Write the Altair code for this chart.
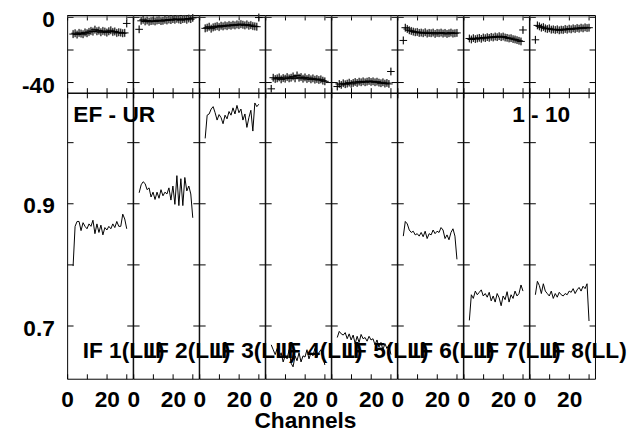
import altair as alt
import pandas as pd

# ---------------- data ----------------
channels = list(range(3, 31))
if_labels = ["IF 1(LL)", "IF 2(LL)", "IF 3(LL)", "IF 4(LL)",
             "IF 5(LL)", "IF 6(LL)", "IF 7(LL)", "IF 8(LL)"]

amp1 = [0.797, 0.862, 0.870, 0.870, 0.855, 0.868, 0.862, 0.858, 0.866, 0.862, 0.872, 0.850, 0.866, 0.852,
        0.864, 0.848, 0.860, 0.856, 0.862, 0.858, 0.866, 0.860, 0.870, 0.862, 0.862, 0.882, 0.874, 0.858]
amp2 = [0.917, 0.930, 0.935, 0.932, 0.922, 0.925, 0.910, 0.918, 0.906, 0.918, 0.908, 0.922, 0.912, 0.918,
        0.915, 0.925, 0.905, 0.928, 0.898, 0.945, 0.896, 0.940, 0.896, 0.942, 0.920, 0.928, 0.915, 0.876]
amp3 = [1.006, 1.044, 1.046, 1.054, 1.058, 1.048, 1.036, 1.045, 1.040, 1.030, 1.044, 1.038, 1.050, 1.044,
        1.056, 1.046, 1.060, 1.048, 1.054, 1.036, 1.046, 1.024, 1.040, 1.052, 1.018, 1.064, 1.058, 1.062]
amp4 = [0.668, 0.660, 0.652, 0.662, 0.648, 0.655, 0.640, 0.650, 0.645, 0.660, 0.638, 0.632, 0.650, 0.642,
        0.655, 0.640, 0.650, 0.648, 0.660, 0.645, 0.655, 0.650, 0.662, 0.648, 0.655, 0.660, 0.650, 0.635]
amp5 = [0.680, 0.690, 0.686, 0.684, 0.688, 0.678, 0.686, 0.676, 0.684, 0.670, 0.682, 0.672, 0.685, 0.678,
        0.680, 0.674, 0.682, 0.676, 0.678, 0.668, 0.676, 0.664, 0.672, 0.660, 0.670, 0.662, 0.668, 0.652]
amp6 = [0.846, 0.870, 0.866, 0.856, 0.852, 0.854, 0.848, 0.850, 0.846, 0.852, 0.845, 0.854, 0.842, 0.850,
        0.848, 0.856, 0.850, 0.854, 0.852, 0.860, 0.856, 0.842, 0.848, 0.840, 0.852, 0.858, 0.846, 0.808]
amp7 = [0.708, 0.750, 0.744, 0.756, 0.750, 0.754, 0.758, 0.748, 0.752, 0.746, 0.754, 0.740, 0.748, 0.738,
        0.752, 0.745, 0.732, 0.748, 0.742, 0.755, 0.738, 0.750, 0.744, 0.756, 0.748, 0.752, 0.766, 0.756]
amp8 = [0.750, 0.772, 0.765, 0.752, 0.768, 0.756, 0.752, 0.748, 0.756, 0.744, 0.752, 0.746, 0.754, 0.750,
        0.748, 0.752, 0.750, 0.756, 0.754, 0.760, 0.752, 0.758, 0.762, 0.756, 0.764, 0.760, 0.768, 0.707]

ph1 = [-10.5, -10, -10.8, -9.8, -10.2, -10.6, -9.5, -10, -9.2, -8.6, -9, -7.8, -8.8, -8.4,
       -9.4, -8.6, -9, -9.6, -8.8, -8.2, -9.2, -8.9, -9.8, -9.4, -9.6, -10, -9.8, -4]
ph2 = [-7.6, -2.4, -1.8, -2.8, -2.2, -3, -2.6, -2.4, -2.8, -2.2, -2, -2.6, -2.4, -1.8,
       -2.2, -1.6, -2, -1.4, -1.8, -1.2, -1.6, -2, -1.4, -1.2, -1.8, -1, -1.4, -0.6]
ph3 = [-7, -6.6, -6, -7.2, -6.4, -6, -5.6, -6.2, -5.4, -5.8, -5.2, -5.6, -5, -5.4,
       -4.8, -5.2, -4.6, -5, -4.4, -4.8, -5.2, -4.6, -5.4, -5, -5.6, -5.8, -6, -0.4]
ph4 = [-44, -37.2, -38, -37.6, -37, -38.2, -37.4, -37.8, -36.8, -37.6, -37.2, -36.4, -37.6, -35.8,
       -37.2, -36.8, -37.8, -37, -38, -37.4, -38.2, -37.6, -38.4, -38, -38.6, -38.2, -39, -39.4]
ph5 = [-42.6, -41, -41.6, -40.6, -41.2, -40.8, -40.2, -41, -40.4, -39.8, -40.4, -39.6, -40, -39.4,
       -40, -39.6, -39.2, -39.8, -39.4, -40, -39.6, -40.2, -40.6, -40, -40.8, -40.4, -41, -33.4]
ph6 = [-14.4, -6.6, -7.4, -8.2, -8.6, -9, -9.4, -9.2, -9.8, -9.6, -10, -9.4, -10.2, -9.8,
       -10, -9.6, -10.4, -9.8, -10, -9.6, -10.2, -9.8, -10.4, -10, -9.6, -10.2, -10, -9.8]
ph7 = [-13.2, -13.8, -13, -13.6, -13.2, -12.8, -13.4, -12.6, -13, -12.4, -12.8, -12.2, -12.6, -12,
       -12.4, -11.8, -12.4, -12, -12.6, -12.8, -13.2, -13, -13.6, -13.8, -14.2, -14.6, -15, -8]
ph8 = [-14, -5.2, -5.8, -6.6, -6.2, -7, -7.4, -7, -7.8, -7.6, -8, -7.6, -8.2, -7.8,
       -8, -7.4, -7.8, -7.2, -7.6, -7, -7.4, -6.8, -7.2, -6.6, -7, -6.4, -6.8, -6.6]
ph_err = [2.6, 2.4, 2.6, 2.5, 2.4, 2.5, 2.4, 2.5]

amps = [amp1, amp2, amp3, amp4, amp5, amp6, amp7, amp8]
phases = [ph1, ph2, ph3, ph4, ph5, ph6, ph7, ph8]

# ---------------- layout / style ----------------
FONT = "Liberation Sans"
FS = 23
W = 66.5
H_TOP = 78.7
H_BOT = 290
X_DOM = [0, 33]
PH_DOM = [-46.3, 1.15]
AMP_DOM = [0.6125, 1.0805]
X_TICKS = [0, 10, 20, 30]
PH_TICKS = [-40, -20, 0]
AMP_TICKS = [0.7, 0.8, 0.9, 1.0]
PLUS = "M-1,0L1,0M0,-1L0,1"

xs = alt.Scale(domain=X_DOM, nice=False, zero=False)
ys_top = alt.Scale(domain=PH_DOM, nice=False, zero=False)
ys_bot = alt.Scale(domain=AMP_DOM, nice=False, zero=False)


def tick_axis(orient, offset, values, size):
    return alt.Axis(orient=orient, offset=offset, values=values, ticks=True, tickSize=size,
                    tickColor="black", tickWidth=1, labels=False, domain=False, grid=False, title=None)


def axis_layers(df, yfield, ys, h, yticks, x_lab=None, y_lab=None):
    base = alt.Chart(df).mark_point(opacity=0)
    layers = [
        base.encode(x=alt.X("ch:Q", scale=xs, axis=tick_axis("top", -h, X_TICKS, 5)),
                    y=alt.Y(yfield, scale=ys, axis=tick_axis("right", -W, yticks, 6))),
        base.encode(x=alt.X("ch:Q", scale=xs, axis=tick_axis("bottom", -h, X_TICKS, 5)),
                    y=alt.Y(yfield, scale=ys, axis=tick_axis("left", -W, yticks, 6))),
    ]
    if x_lab is not None or y_lab is not None:
        layers.append(base.encode(x=alt.X("ch:Q", scale=xs, axis=x_lab),
                                  y=alt.Y(yfield, scale=ys, axis=y_lab)))
    return layers


lab_common = dict(ticks=False, domain=False, grid=False, labelFont=FONT, labelFontSize=FS,
                  labelFontWeight="bold", labelColor="black", labelFlush=False, labelOverlap=False)

top_cells = []
bot_cells = []
for i in range(8):
    err = ph_err[i]
    df_top = pd.DataFrame({"ch": channels, "ph": phases[i],
                           "lo": [v - err for v in phases[i]],
                           "hi": [v + err for v in phases[i]]})
    df_bot = pd.DataFrame({"ch": channels, "amp": amps[i]})

    # ---- top (phase) panel ----
    y_lab_top = None
    if i == 0:
        y_lab_top = alt.Axis(orient="left", values=[-40, 0], labelExpr="toString(datum.value)",
                             labelPadding=13, labelOffset=3, title=None, **lab_common)
    bars = alt.Chart(df_top).mark_rule(color="#a6a6a6", strokeWidth=1).encode(
        x=alt.X("ch:Q", scale=xs, axis=None),
        y=alt.Y("lo:Q", scale=ys_top, axis=None), y2="hi:Q")
    pts = alt.Chart(df_top).mark_point(shape=PLUS, size=60, filled=False, color="black",
                                       strokeWidth=1, opacity=1).encode(
        x=alt.X("ch:Q", scale=xs, axis=None),
        y=alt.Y("ph:Q", scale=ys_top, axis=None))
    zero = alt.Chart(pd.DataFrame({"k": [0]})).mark_rule(color="#7a7a7a", strokeWidth=1).encode(
        y=alt.YDatum(0, scale=ys_top, axis=None))
    top = alt.layer(zero, bars, pts,
                    *axis_layers(df_top, "ph:Q", ys_top, H_TOP, PH_TICKS, None, y_lab_top)
                    ).resolve_axis(x="independent", y="independent").properties(width=W, height=H_TOP)
    top_cells.append(top)

    # ---- bottom (amplitude) panel ----
    x_kw = dict(lab_common)
    if i == 3:
        x_lab = alt.Axis(orient="bottom", values=[0, 20], labelPadding=10, title="Channels",
                         titleFont=FONT, titleFontSize=FS, titleFontWeight="bold", titleColor="black",
                         titleX=40.3, titleY=49, titleAlign="center", titleBaseline="alphabetic", **x_kw)
    else:
        x_lab = alt.Axis(orient="bottom", values=[0, 20], labelPadding=10, title=None, **x_kw)
    y_lab_bot = None
    if i == 0:
        y_lab_bot = alt.Axis(orient="left", values=[0.7, 0.9], format=".1f",
                             labelPadding=13, labelOffset=3, title=None, **lab_common)
    line = alt.Chart(df_bot).mark_line(color="black", strokeWidth=1).encode(
        x=alt.X("ch:Q", scale=xs, axis=None),
        y=alt.Y("amp:Q", scale=ys_bot, axis=None))
    lbl = alt.Chart(pd.DataFrame({"k": [0]})).mark_text(
        text=if_labels[i], align="left", baseline="middle", font=FONT, fontSize=FS,
        fontWeight="bold", color="black").encode(
        x=alt.XDatum(7.8, scale=xs, axis=None), y=alt.YDatum(0.6575, scale=ys_bot, axis=None))
    layers = [line, lbl]
    if i == 0:
        layers.append(alt.Chart(pd.DataFrame({"k": [0]})).mark_text(
            text="EF - UR", align="left", baseline="middle", font=FONT, fontSize=FS,
            fontWeight="bold", color="black").encode(
            x=alt.XDatum(3.1, scale=xs, axis=None), y=alt.YDatum(1.0446, scale=ys_bot, axis=None)))
    if i == 7:
        layers.append(alt.Chart(pd.DataFrame({"k": [0]})).mark_text(
            text="1 - 10", align="right", baseline="middle", font=FONT, fontSize=FS,
            fontWeight="bold", color="black").encode(
            x=alt.XDatum(20.5, scale=xs, axis=None), y=alt.YDatum(1.0446, scale=ys_bot, axis=None)))
    bot = alt.layer(*layers,
                    *axis_layers(df_bot, "amp:Q", ys_bot, H_BOT, AMP_TICKS, x_lab, y_lab_bot)
                    ).resolve_axis(x="independent", y="independent").properties(width=W, height=H_BOT)
    bot_cells.append(bot)

chart = alt.concat(*top_cells, *bot_cells, columns=8, spacing=0, bounds="flush").properties(
    padding={"left": 13, "top": -3, "right": 0, "bottom": 2}
).configure(font=FONT).configure_view(stroke="black", strokeWidth=1)

chart.save("out.html", embed_options={"renderer": "svg", "actions": False})
